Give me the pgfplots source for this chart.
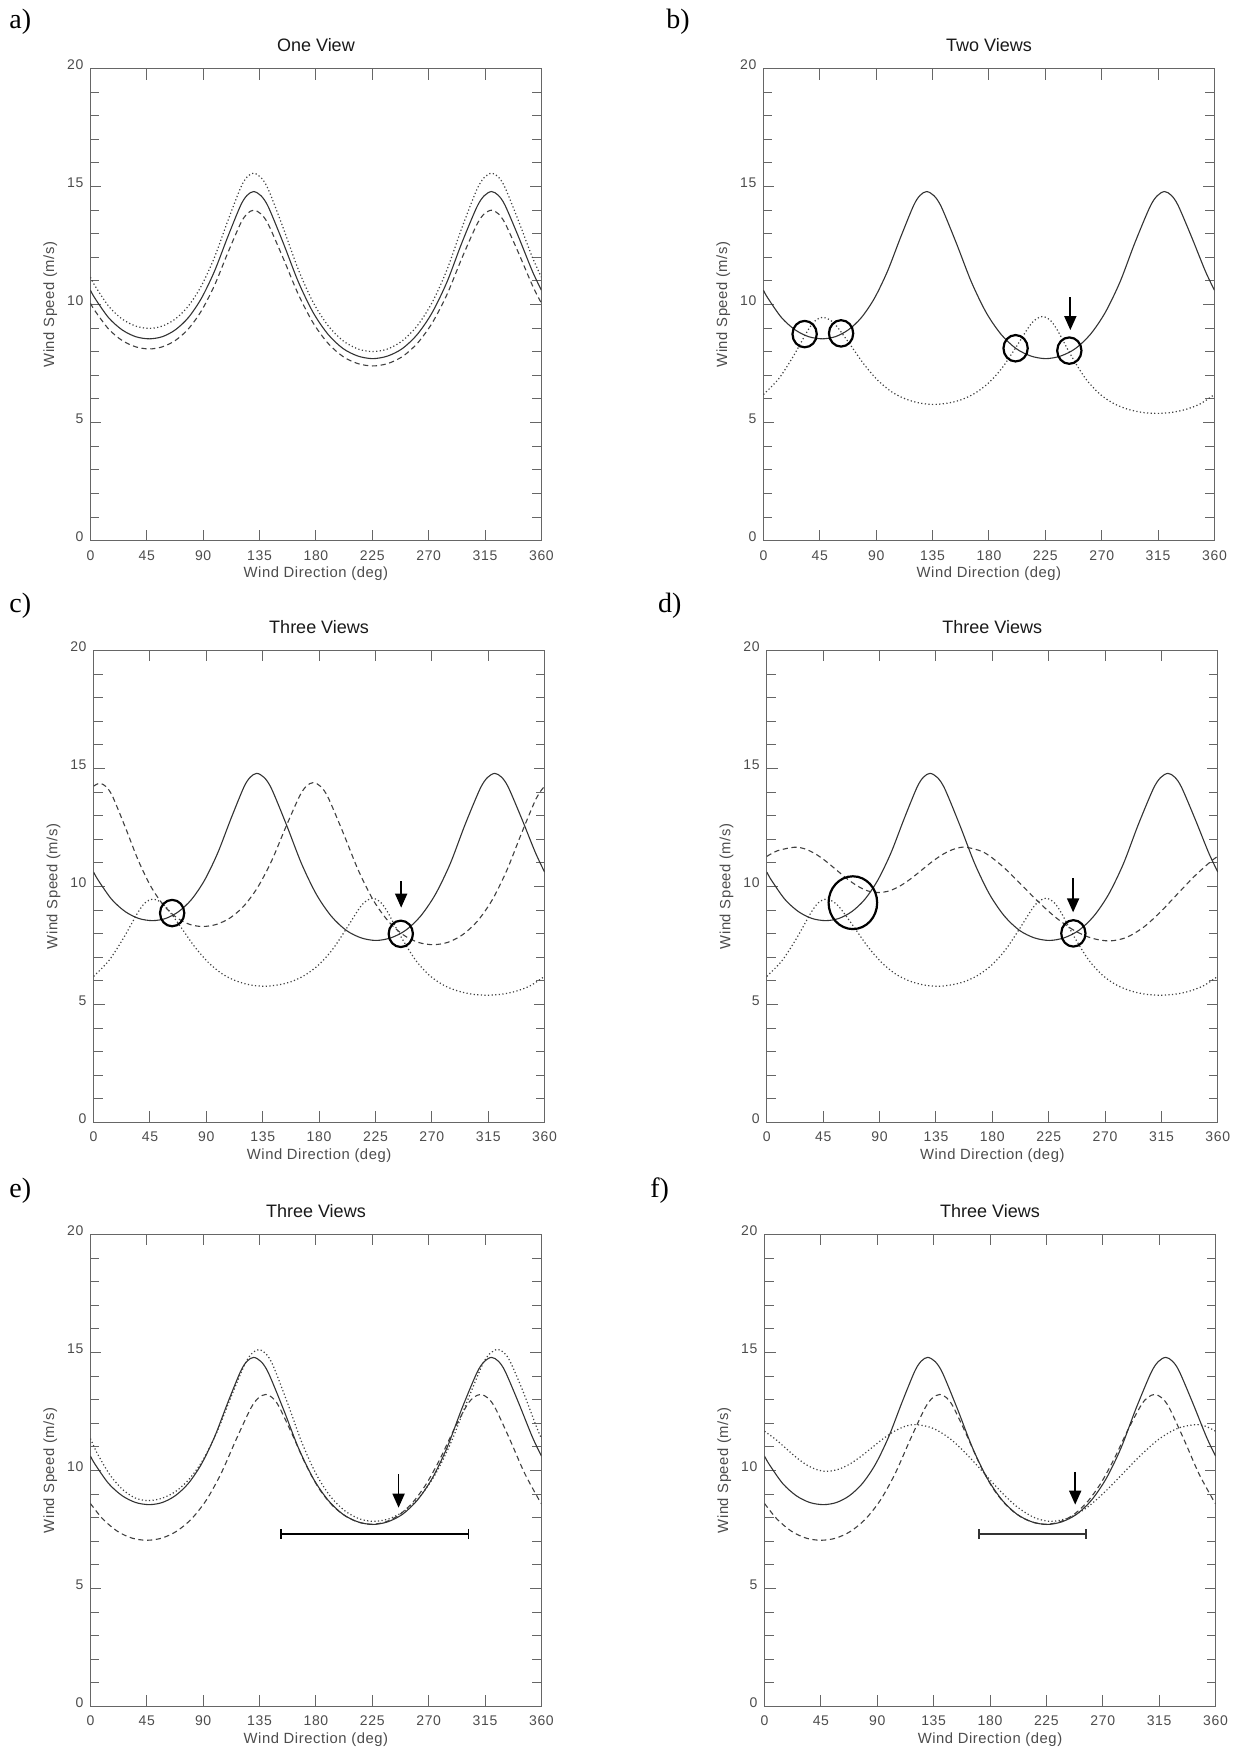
\documentclass[border=0pt]{standalone}
\usepackage{fontspec}
\setmainfont{Liberation Sans}
\newfontfamily\timesfont{Liberation Serif}
\newfontfamily\idltick[LetterSpace=5]{Liberation Sans}
\newfontfamily\idllab[LetterSpace=3.8]{Liberation Sans}
\usepackage{pgfplots}
\usepackage{pgfplotstable}
\pgfplotsset{compat=1.18}
\usetikzlibrary{arrows.meta}

% ---- curves (deg, m/s) ----
\pgfplotstableread{
x y
0 10.61
3.6 10.27
14.45 9.45
25.3 8.93
36.15 8.64
47 8.55
57.4 8.64
67.8 8.93
78.2 9.45
88.65 10.27
99.1 11.42
109.5 12.85
119.9 14.20
125.1 14.63
130.3 14.79
136.25 14.61
142.2 14.12
154.1 12.59
166.0 10.96
177.85 9.66
189.7 8.74
201.6 8.14
213.5 7.82
225.4 7.71
237.25 7.82
249.1 8.14
261.0 8.74
272.8 9.66
284.65 10.96
296.3 12.59
308.35 14.12
314.3 14.61
320.2 14.79
325.6 14.63
331.05 14.20
341.9 12.85
352.75 11.42
360 10.61
}\solidtab

\pgfplotstableread{
x y
0 11.16
3.6 10.80
14.45 9.94
25.3 9.39
36.15 9.09
47 8.99
57.4 9.09
67.8 9.39
78.2 9.94
88.65 10.80
99.1 12.01
109.5 13.52
119.9 14.95
125.1 15.41
130.3 15.57
136.25 15.38
142.2 14.86
154.1 13.22
166.0 11.48
177.85 10.09
189.7 9.11
201.6 8.47
213.5 8.12
225.4 8.01
237.25 8.12
249.1 8.47
261.0 9.11
272.8 10.09
284.65 11.48
296.3 13.22
308.35 14.86
314.3 15.38
320.2 15.57
325.6 15.41
331.05 14.95
341.9 13.52
352.75 12.01
360 11.16
}\adottab

\pgfplotstableread{
x y
0 10.06
3.6 9.74
14.45 8.97
25.3 8.48
36.15 8.21
47 8.12
57.4 8.21
67.8 8.48
78.2 8.97
88.65 9.74
99.1 10.82
109.5 12.17
119.9 13.44
125.1 13.85
130.3 14.00
136.25 13.84
142.2 13.38
154.1 11.94
166.0 10.43
177.85 9.22
189.7 8.36
201.6 7.80
213.5 7.50
225.4 7.40
237.25 7.50
249.1 7.80
261.0 8.36
272.8 9.22
284.65 10.43
296.3 11.94
308.35 13.38
314.3 13.84
320.2 14.00
325.6 13.85
331.05 13.44
341.9 12.17
352.75 10.82
360 10.06
}\adashtab

\pgfplotstableread{
x y
0 6.19
12.1 6.85
23.75 7.80
35.4 8.90
41.2 9.31
47 9.46
52.5 9.37
58.1 9.11
69.2 8.31
80.3 7.47
91.35 6.79
102.45 6.30
113.5 6.00
124.6 5.83
135.7 5.77
146.6 5.82
157.5 5.96
168.4 6.23
179.35 6.66
190.3 7.30
201.2 8.16
212.1 9.07
217.5 9.38
223 9.50
228.7 9.35
234.4 8.94
245.75 7.83
257.1 6.87
268.5 6.21
279.9 5.80
291.25 5.56
302.6 5.43
314 5.39
325.6 5.43
337.25 5.56
348.9 5.80
360 6.19
}\viewtwotab

\pgfplotstableread{
x y
0 14.25
5 14.37
10.1 14.22
15.25 13.80
25.5 12.48
35.75 11.09
46 9.97
56.25 9.18
66.5 8.67
76.75 8.39
87 8.30
98.05 8.39
109.1 8.67
120.15 9.18
131.2 9.98
142.25 11.10
153.3 12.50
164.35 13.82
169.9 14.25
175.4 14.40
181.4 14.23
187.35 13.75
199.3 12.26
211.25 10.69
223.2 9.42
235.15 8.53
247.1 7.95
259.05 7.63
271 7.53
282.75 7.63
294.5 7.95
306.25 8.52
318 9.41
329.75 10.67
341.5 12.24
353.25 13.72
360 14.25
}\cdashtab

\pgfplotstableread{
x y
0 11.27
8.45 11.51
22 11.66
30.4 11.59
38.75 11.38
47.1 11.07
55.5 10.70
63.9 10.33
72.25 10.02
80.6 9.81
89 9.74
97.7 9.81
106.4 10.02
115.1 10.33
123.8 10.70
132.5 11.07
141.2 11.38
149.9 11.59
158.6 11.66
173.0 11.45
187.35 10.89
201.7 10.15
216.1 9.38
230.5 8.69
244.85 8.15
259.2 7.81
273.6 7.69
287.15 7.84
300.7 8.27
314.25 8.92
327.8 9.68
341.35 10.43
354.9 11.08
360 11.27
}\ddashtab

\pgfplotstableread{
x y
0 11.35
5.5 10.72
15.6 9.81
25.75 9.19
35.9 8.83
46 8.72
57.1 8.82
68.1 9.11
79.2 9.65
90.25 10.48
101.3 11.66
112.4 13.13
123.45 14.52
129.0 14.96
134.5 15.12
140.2 14.94
145.9 14.43
157.4 12.85
168.8 11.18
180.25 9.84
191.7 8.89
203.1 8.29
214.6 7.95
226 7.84
238.4 7.95
250.75 8.29
263.1 8.90
275.5 9.85
287.9 11.19
300.25 12.86
312.6 14.44
318.8 14.95
325 15.13
330.1 14.99
335.1 14.61
345.25 13.36
355.4 11.94
360 11.35
}\edottab

\pgfplotstableread{
x y
0 8.60
9.94 7.94
21.6 7.42
33.3 7.13
45 7.04
56.9 7.13
68.75 7.42
80.6 7.94
92.5 8.74
104.4 9.88
116.25 11.30
128.1 12.64
134.1 13.07
140 13.22
145.3 13.08
150.6 12.70
161.25 11.51
171.9 10.25
182.5 9.23
193.1 8.52
203.75 8.06
214.4 7.80
225 7.72
235.8 7.82
246.6 8.12
257.4 8.65
268.25 9.44
279.1 10.49
289.9 11.70
300.7 12.77
306.1 13.10
311.5 13.22
317.3 13.07
323.2 12.64
334.9 11.30
346.6 9.88
358.25 8.74
360 8.60
}\efdashtab

\pgfplotstableread{
x y
0 11.66
8.56 11.33
16.75 10.95
24.94 10.57
33.1 10.25
41.3 10.04
49.5 9.96
58.5 10.04
67.45 10.25
76.4 10.57
85.4 10.95
94.4 11.33
103.35 11.65
112.3 11.87
121.3 11.94
134.75 11.78
148.2 11.34
161.65 10.67
175.1 9.89
188.55 9.11
202.0 8.44
215.45 8.00
228.9 7.84
243.3 8.00
257.7 8.44
272.1 9.11
286.45 9.89
300.85 10.67
315.2 11.34
329.6 11.78
344 11.94
352.2 11.87
360 11.66
}\fdottab

\pgfplotsset{
  windax/.style={
    scale only axis, width=225.5pt, height=236pt,
    xmin=0, xmax=360, ymin=0, ymax=20,
    xtick={0,45,...,360}, ytick={0,5,...,20}, minor y tick num=4,
    tick align=inside, tick pos=both,
    xticklabel pos=lower, yticklabel pos=left,
    major tick length=5.5pt, minor tick length=4.5pt,
    axis line style={black!60, line width=0.6pt},
    every tick/.style={black!60, line width=0.5pt},
    /pgf/number format/assume math mode=true,
    ticklabel style={font=\idltick\fontsize{7}{8.4}\selectfont, text=black!70},
    xticklabel style={anchor=base, yshift=-9.7pt},
    yticklabel style={yshift=2pt},
    xlabel={Wind Direction (deg)}, ylabel={Wind Speed (m/s)},
    xlabel style={font=\idllab\fontsize{7.4}{8.8}\selectfont, text=black!70,
      at={(axis description cs:0.5,0)}, anchor=base, yshift=-18.6pt},
    ylabel style={font=\idllab\fontsize{7.4}{8.8}\selectfont, text=black!70,
      at={(axis description cs:-0.089,0.5)}, anchor=center},
    every axis title shift=0pt,
    title style={font=\fontsize{9}{10}\selectfont, text=black!90,
      at={(axis description cs:0.5,1)}, anchor=base, yshift=8.3pt},
  },
  solidc/.style={black!80, line width=0.55pt, smooth, no markers},
  dotc/.style={black!75, line width=0.6pt, dash pattern=on 0.6pt off 1.2pt, smooth, no markers},
  dashc/.style={black!75, line width=0.55pt, dash pattern=on 2.6pt off 1.8pt, smooth, no markers},
  circ/.style={only marks, mark=o, mark size=6.6pt,
    mark options={line width=1.1pt, black, xscale=0.92}},
  arr/.style={black, line width=0.9pt, no markers, -{Triangle[length=7pt,width=6pt]}},
  ebar/.style={line width=0.8pt, no markers, {Bar[width=5pt]}-{Bar[width=5pt]}},
}

\begin{document}
\begin{tikzpicture}
\path[use as bounding box] (0,0) rectangle (618pt,-874pt);

\node[anchor=west, inner sep=0pt, font=\timesfont\fontsize{14}{16}\selectfont] at (4.5pt,-11pt) {a)};
\node[anchor=west, inner sep=0pt, font=\timesfont\fontsize{14}{16}\selectfont] at (333pt,-11pt) {b)};
\node[anchor=west, inner sep=0pt, font=\timesfont\fontsize{14}{16}\selectfont] at (4.5pt,-303pt) {c)};
\node[anchor=west, inner sep=0pt, font=\timesfont\fontsize{14}{16}\selectfont] at (328.8pt,-303pt) {d)};
\node[anchor=west, inner sep=0pt, font=\timesfont\fontsize{14}{16}\selectfont] at (4.5pt,-595.5pt) {e)};
\node[anchor=west, inner sep=0pt, font=\timesfont\fontsize{14}{16}\selectfont] at (325pt,-595.5pt) {f)};

% a) one view
\begin{axis}[windax, at={(45.2pt,-270.3pt)}, anchor=south west, title={One View}]
\addplot[dotc] table {\adottab};
\addplot[dashc] table {\adashtab};
\addplot[solidc] table {\solidtab};
\end{axis}

% b) two views
\begin{axis}[windax, at={(381.7pt,-270.3pt)}, anchor=south west, title={Two Views}]
\addplot[dotc] table {\viewtwotab};
\addplot[solidc] table {\solidtab};
\addplot[circ] coordinates {(32.9,8.75) (62,8.78) (201.3,8.15) (244.2,8.05)};
\addplot[arr] coordinates {(245,10.31) (245,8.92)};
\end{axis}

% c) three views
\begin{axis}[windax, at={(46.8pt,-561.2pt)}, anchor=south west, title={Three Views}]
\addplot[dotc] table {\viewtwotab};
\addplot[dashc] table {\cdashtab};
\addplot[solidc] table {\solidtab};
\addplot[circ] coordinates {(62.7,8.87) (245.2,7.99)};
\addplot[arr] coordinates {(245.5,10.22) (245.5,9.10)};
\end{axis}

% d) three views
\begin{axis}[windax, at={(383.4pt,-561.2pt)}, anchor=south west, title={Three Views}]
\addplot[dotc] table {\viewtwotab};
\addplot[dashc] table {\ddashtab};
\addplot[solidc] table {\solidtab};
\addplot[circ, mark size=13.2pt] coordinates {(68.7,9.31)};
\addplot[circ] coordinates {(244.7,8.01)};
\addplot[arr] coordinates {(244.5,10.34) (244.5,8.90)};
\end{axis}

% e) three views
\begin{axis}[windax, at={(45.2pt,-853.2pt)}, anchor=south west, title={Three Views}]
\addplot[dotc] table {\edottab};
\addplot[dashc] table {\efdashtab};
\addplot[solidc] table {\solidtab};
\addplot[arr] coordinates {(246,9.83) (246,8.42)};
\addplot[ebar, black] coordinates {(151.3,7.31) (302.3,7.31)};
\end{axis}

% f) three views
\begin{axis}[windax, at={(382.25pt,-853.2pt)}, anchor=south west, title={Three Views}]
\addplot[dotc] table {\fdottab};
\addplot[dashc] table {\efdashtab};
\addplot[solidc] table {\solidtab};
\addplot[arr] coordinates {(248,9.94) (248,8.55)};
\addplot[ebar, black!80] coordinates {(170.7,7.30) (257.3,7.30)};
\end{axis}
\end{tikzpicture}
\end{document}
